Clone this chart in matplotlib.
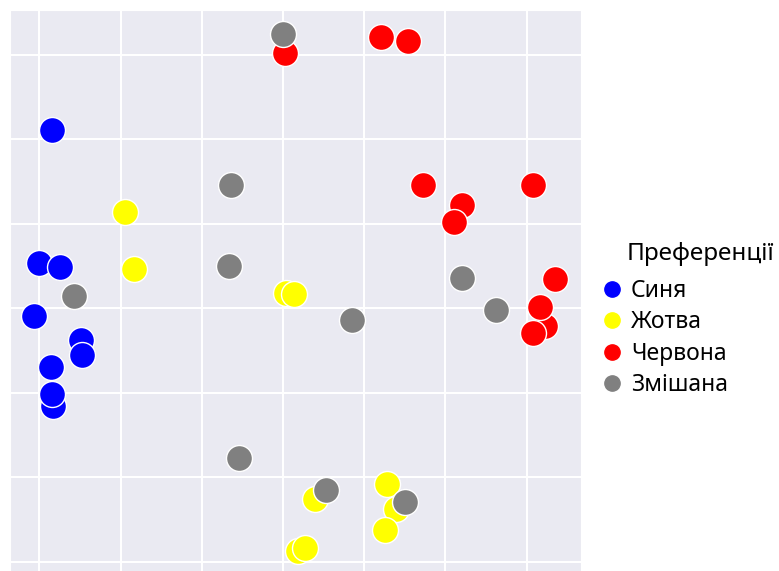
import matplotlib
matplotlib.use('Agg')
import matplotlib.pyplot as plt
from matplotlib.lines import Line2D
import seaborn as sns

# точки по групах (координати у межах сітки)
blue_x = [-2.84, -3.00, -2.75, -3.07, -2.49, -2.48, -2.86, -2.83, -2.84]
blue_y = [2.11, 0.53, 0.49, -0.09, -0.38, -0.56, -0.70, -1.16, -1.02]

yellow_x = [-1.94, -1.84, 0.04, 0.13, 0.40, 1.28, 1.39, 1.26, 0.18, 0.27]
yellow_y = [1.14, 0.46, 0.18, 0.16, -2.26, -2.08, -2.38, -2.63, -2.87, -2.84]

red_x = [0.02, 1.21, 1.54, 1.73, 3.08, 2.21, 2.11, 3.35, 3.23, 3.17, 3.08]
red_y = [3.02, 3.21, 3.16, 1.46, 1.45, 1.22, 1.02, 0.34, -0.21, 0.01, -0.29]

grey_x = [0.00, -0.64, -0.67, -2.57, 0.85, 2.20, 2.63, -0.54, 0.53, 1.50]
grey_y = [3.24, 1.45, 0.50, 0.14, -0.14, 0.35, -0.02, -1.77, -2.15, -2.30]

labels = ['Синя', 'Жотва', 'Червона', 'Змішана']
colors = ['blue', 'yellow', 'red', 'gray']
legend_title = 'Преференції'

sns.set_style('darkgrid')
plt.rcParams['font.family'] = ['Noto Sans', 'DejaVu Sans']

fig = plt.figure(figsize=(7.79, 5.71), dpi=100)
ax = fig.add_axes([0.0128, -0.01, 0.733, 0.9925])

groups = [(blue_x, blue_y), (yellow_x, yellow_y), (red_x, red_y), (grey_x, grey_y)]
for (gx, gy), c in zip(groups, colors):
    ax.scatter(gx, gy, s=350, color=c, edgecolor='white', linewidth=1)

ax.set_xticks(range(-3, 4))
ax.set_yticks(range(-3, 4))
ax.set_xlim(-3.363, 3.671)
ax.set_ylim(-3.18, 3.527)
ax.set_xticklabels([])
ax.set_yticklabels([])
ax.tick_params(length=0)
ax.grid(linewidth=1.5)

handles = [Line2D([], [], marker='o', linestyle='', color=c, markersize=11)
           for c in colors]
fig.legend(handles, labels, loc='center left',
           bbox_to_anchor=(0.741, 0.408), frameon=False, fontsize=16.5,
           handletextpad=0.25, labelspacing=0.31,
           handlelength=1.2, labelcolor='black')
# заголовок легенди зсунутий праворуч, як в оригіналі
fig.text(0.805, 0.556, legend_title, fontsize=17.5, color='black', va='center')

plt.savefig('out.png', dpi=100)
